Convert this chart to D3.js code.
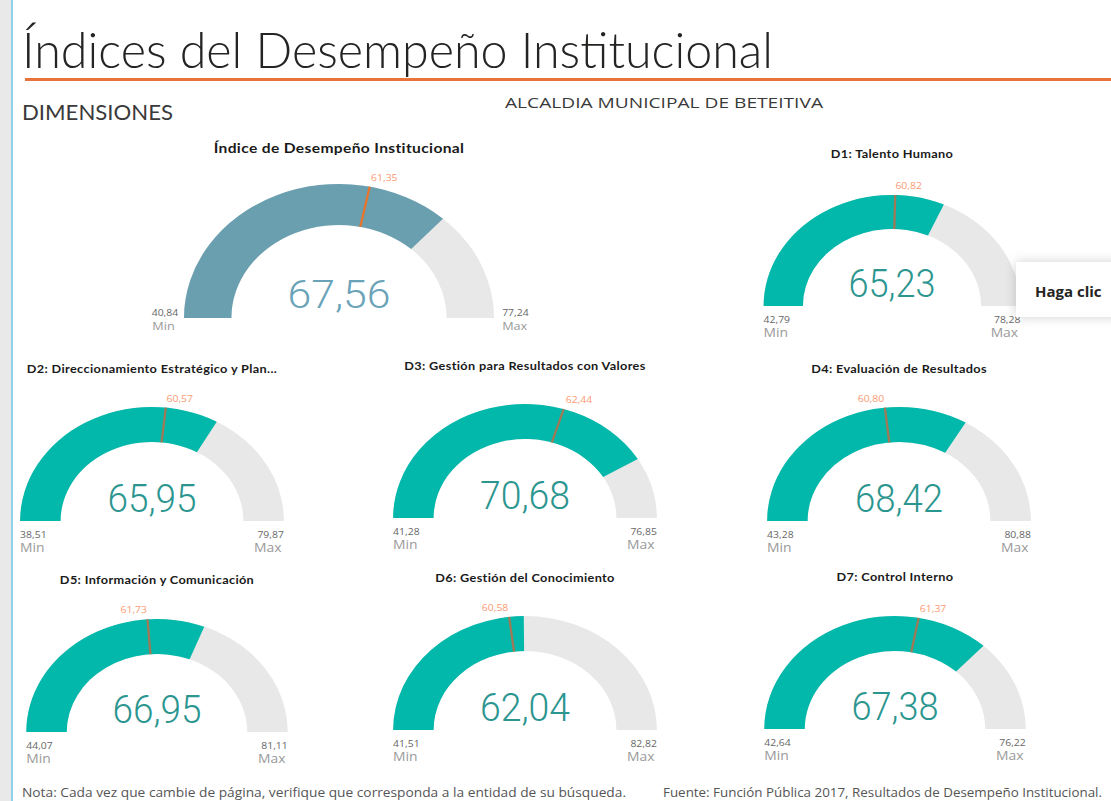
<!DOCTYPE html>
<html>
<head>
<meta charset="utf-8">
<script src="https://cdn.jsdelivr.net/npm/d3@7"></script>
<style>
  html, body { margin: 0; padding: 0; background: #fff; overflow: hidden; }
  svg { display: block; }
</style>
</head>
<body>
<svg id="chart" width="1111" height="801"></svg>
<script>
// gauge data
const gaugeTitles = [
  "Índice de Desempeño Institucional",
  "D1: Talento Humano",
  "D2: Direccionamiento Estratégico y Plan...",
  "D3: Gestión para Resultados con Valores",
  "D4: Evaluación de Resultados",
  "D5: Información y Comunicación",
  "D6: Gestión del Conocimiento",
  "D7: Control Interno"
]
const gaugeValues = [67.56, 65.23, 65.95, 70.68, 68.42, 66.95, 62.04, 67.38]
const gaugeMins = [40.84, 42.79, 38.51, 41.28, 43.28, 44.07, 41.51, 42.64]
const gaugeMaxs = [77.24, 78.28, 79.87, 76.85, 80.88, 81.11, 82.82, 76.22]
const gaugeTargets = [61.35, 60.82, 60.57, 62.44, 60.80, 61.73, 60.58, 61.37]

// where each gauge sits on the page (the screenshot is stretched sideways by K)
const K = 1.157
const layout = [
  { cx: 339, cy: 318, r: 134, th: 41, tw: 103, main: true },
  { cx: 892, cy: 306, r: 111, th: 34, tw: 87 },
  { cx: 152, cy: 521, r: 114, th: 35, tw: 89 },
  { cx: 525, cy: 518, r: 114, th: 35, tw: 90 },
  { cx: 899, cy: 521, r: 114, th: 35, tw: 88 },
  { cx: 157, cy: 732, r: 113, th: 35, tw: 89 },
  { cx: 525, cy: 730, r: 114, th: 35, tw: 90 },
  { cx: 895, cy: 729, r: 113, th: 35, tw: 87 }
]

const locale = d3.formatLocale({ decimal: ",", thousands: ".", grouping: [3], currency: ["", ""] })
const fmt = locale.format(".2f")

const svg = d3.select("#chart")

// left frame strip
svg.append("rect").attr("x", 0).attr("y", 0).attr("width", 11).attr("height", 801).attr("fill", "#e9e9e9")
svg.append("rect").attr("x", 11).attr("y", 0).attr("width", 2).attr("height", 801).attr("fill", "#8fd0ea")

// header
svg.append("text")
  .attr("x", 22).attr("y", 68)
  .attr("textLength", 751).attr("lengthAdjust", "spacingAndGlyphs")
  .style("font-family", "Lato, 'Open Sans', sans-serif")
  .style("font-weight", 300)
  .style("font-size", "50px")
  .style("fill", "#252423")
  .text("Índices del Desempeño Institucional")

svg.append("rect").attr("x", 25).attr("y", 78).attr("width", 1086).attr("height", 3).attr("fill", "#e8743b")

svg.append("text")
  .attr("x", 22).attr("y", 120)
  .attr("textLength", 151).attr("lengthAdjust", "spacingAndGlyphs")
  .style("font-family", "Lato, sans-serif")
  .style("font-size", "21px")
  .style("fill", "#3a3a3a")
  .text("DIMENSIONES")

svg.append("text")
  .attr("x", 505).attr("y", 108)
  .attr("textLength", 318).attr("lengthAdjust", "spacingAndGlyphs")
  .style("font-family", "'Open Sans', sans-serif")
  .style("font-size", "14px")
  .style("fill", "#3a3a3a")
  .text("ALCALDIA MUNICIPAL DE BETEITIVA")

// gauges
gaugeValues.forEach((value, i) => {
  const L = layout[i]
  const angle = d3.scaleLinear()
    .domain([gaugeMins[i], gaugeMaxs[i]])
    .range([-Math.PI / 2, Math.PI / 2])
    .clamp(true)

  const arc = d3.arc().innerRadius(L.r - L.th).outerRadius(L.r)

  const g = svg.append("g")
    .attr("transform", `translate(${L.cx},${L.cy}) scale(${K},1)`)

  g.append("path")
    .attr("d", arc({ startAngle: -Math.PI / 2, endAngle: Math.PI / 2 }))
    .attr("fill", "#e8e8e8")

  g.append("path")
    .attr("d", arc({ startAngle: -Math.PI / 2, endAngle: angle(value) }))
    .attr("fill", L.main ? "#6a9fb0" : "#01b8aa")

  // target line + label
  const a = angle(gaugeTargets[i])
  const r0 = L.r - L.th, r1 = L.r
  g.append("line")
    .attr("x1", r0 * Math.sin(a)).attr("y1", -r0 * Math.cos(a))
    .attr("x2", r1 * Math.sin(a)).attr("y2", -r1 * Math.cos(a))
    .attr("stroke", L.main ? "#e8742c" : "#a07a58")
    .attr("stroke-width", 2)

  g.append("text")
    .attr("x", (r1 + 6) * Math.sin(a))
    .attr("y", -(r1 + 6) * Math.cos(a))
    .attr("text-anchor", a >= 0 ? "start" : "end")
    .style("font-family", "'Open Sans', sans-serif")
    .style("font-size", "9px")
    .style("fill", "#fd9a72")
    .text(fmt(gaugeTargets[i]))

  // title
  g.append("text")
    .attr("x", 0)
    .attr("y", L.main ? -165 : -148)
    .attr("text-anchor", "middle")
    .style("font-family", "Lato, sans-serif")
    .style("font-weight", 700)
    .style("font-size", L.main ? "13.5px" : "11px")
    .style("letter-spacing", "0.3px")
    .style("fill", "#1a1a1a")
    .text(gaugeTitles[i])

  // callout value
  g.append("text")
    .attr("x", 0)
    .attr("y", L.main ? -10 : -9)
    .attr("text-anchor", "middle")
    .attr("textLength", L.tw / K)
    .attr("lengthAdjust", "spacingAndGlyphs")
    .style("font-family", "Roboto, sans-serif")
    .style("font-weight", 300)
    .style("font-size", "38px")
    .style("fill", L.main ? "#6aa3b8" : "#2b958f")
    .text(fmt(value))

  // min / max labels
  const numStyle = (t) => t.style("font-family", "'Open Sans', sans-serif").style("font-size", "9px").style("fill", "#666")
  const wordStyle = (t) => t.style("font-family", "'Open Sans', sans-serif").style("font-size", "12px").style("fill", "#9a9a9a")

  if (L.main) {
    g.append("text").attr("x", -r1 - 5).attr("y", -2).attr("text-anchor", "end").call(numStyle).text(fmt(gaugeMins[i]))
    g.append("text").attr("x", -r1 - 8).attr("y", 12).attr("text-anchor", "end").call(wordStyle).style("font-size", "11px").text("Min")
    g.append("text").attr("x", r1 + 7).attr("y", -2).attr("text-anchor", "start").call(numStyle).text(fmt(gaugeMaxs[i]))
    g.append("text").attr("x", r1 + 7).attr("y", 12).attr("text-anchor", "start").call(wordStyle).style("font-size", "11px").text("Max")
  } else {
    g.append("text").attr("x", -r1).attr("y", 17).attr("text-anchor", "start").call(numStyle).text(fmt(gaugeMins[i]))
    g.append("text").attr("x", -r1).attr("y", 31).attr("text-anchor", "start").call(wordStyle).text("Min")
    g.append("text").attr("x", r1).attr("y", 17).attr("text-anchor", "end").call(numStyle).text(fmt(gaugeMaxs[i]))
    g.append("text").attr("x", r1 - 2).attr("y", 31).attr("text-anchor", "end").call(wordStyle).text("Max")
  }
})

// tooltip card cut off at the right edge
const defs = svg.append("defs")
const shadow = defs.append("filter").attr("id", "shadow").attr("x", "-20%").attr("y", "-40%").attr("width", "140%").attr("height", "180%")
shadow.append("feDropShadow").attr("dx", 0).attr("dy", 0).attr("stdDeviation", 6).attr("flood-color", "#000").attr("flood-opacity", 0.18)

svg.append("rect")
  .attr("x", 1016).attr("y", 262).attr("width", 120).attr("height", 55)
  .attr("fill", "#fff")
  .attr("filter", "url(#shadow)")

svg.append("text")
  .attr("x", 1035).attr("y", 297)
  .style("font-family", "'Open Sans', sans-serif")
  .style("font-weight", 700)
  .style("font-size", "15px")
  .style("fill", "#252423")
  .text("Haga clic")

// footer notes
svg.append("text")
  .attr("x", 22).attr("y", 797)
  .attr("textLength", 604).attr("lengthAdjust", "spacingAndGlyphs")
  .style("font-family", "'Open Sans', sans-serif")
  .style("font-size", "12px")
  .style("fill", "#555")
  .text("Nota: Cada vez que cambie de página, verifique que corresponda a la entidad de su búsqueda.")

svg.append("text")
  .attr("x", 663).attr("y", 797)
  .attr("textLength", 439).attr("lengthAdjust", "spacingAndGlyphs")
  .style("font-family", "'Open Sans', sans-serif")
  .style("font-size", "12px")
  .style("fill", "#555")
  .text("Fuente: Función Pública 2017, Resultados de Desempeño Institucional.")
</script>
</body>
</html>
